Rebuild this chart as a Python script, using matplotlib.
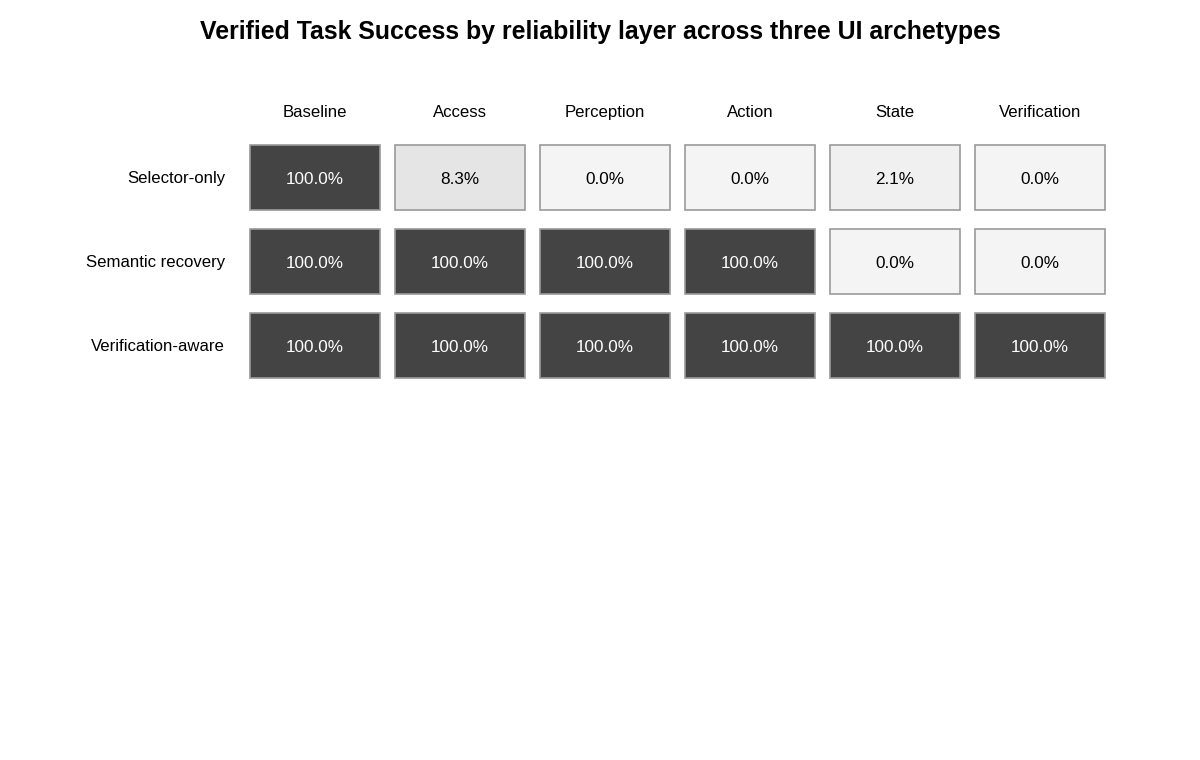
import numpy as np
import matplotlib.pyplot as plt
from matplotlib.patches import Rectangle

plt.rcParams['font.family'] = ['Liberation Sans', 'DejaVu Sans']

# data
layers = ['Baseline', 'Access', 'Perception', 'Action', 'State', 'Verification']
archetypes = ['Selector-only', 'Semantic recovery', 'Verification-aware']
selector_only = [100.0, 8.3, 0.0, 0.0, 2.1, 0.0]
semantic_recovery = [100.0, 100.0, 100.0, 100.0, 0.0, 0.0]
verification_aware = [100.0, 100.0, 100.0, 100.0, 100.0, 100.0]
values = np.array([selector_only, semantic_recovery, verification_aware])

fig = plt.figure(figsize=(12, 7.6), dpi=100)
fig.text(0.5, 1 - 31.5 / 760, 'Verified Task Success by reliability layer across three UI archetypes',
         ha='center', va='center', fontsize=17.9, fontweight='bold')

ax = fig.add_axes([242.5 / 1200, 1 - 387.5 / 760, 870 / 1200, 252 / 760])
ax.set_xlim(-0.5, len(layers) - 0.5)
ax.set_ylim(len(archetypes) - 0.5, -0.5)
ax.axis('off')

cw, ch = 130 / 145, 65 / 84
lo, hi = 244, 68  # grey levels for 0% and 100%

for r, name in enumerate(archetypes):
    ax.text(-0.62, r + 0.01, name, ha='right', va='center', fontsize=12.1, clip_on=False)
    for c, layer in enumerate(layers):
        v = values[r, c]
        g = (lo + (hi - lo) * v / 100) / 255
        ax.add_patch(Rectangle((c - cw / 2, r - ch / 2), cw, ch,
                               facecolor=(g, g, g), edgecolor='#9a9a9a', linewidth=1.2))
        ax.text(c, r + 0.02, f'{v:.1f}%', ha='center', va='center', fontsize=12.3,
                color='white' if v > 50 else 'black')

for c, layer in enumerate(layers):
    ax.text(c, -0.77, layer, ha='center', va='center', fontsize=12.1, clip_on=False)

fig.savefig('out.png', dpi=100)
